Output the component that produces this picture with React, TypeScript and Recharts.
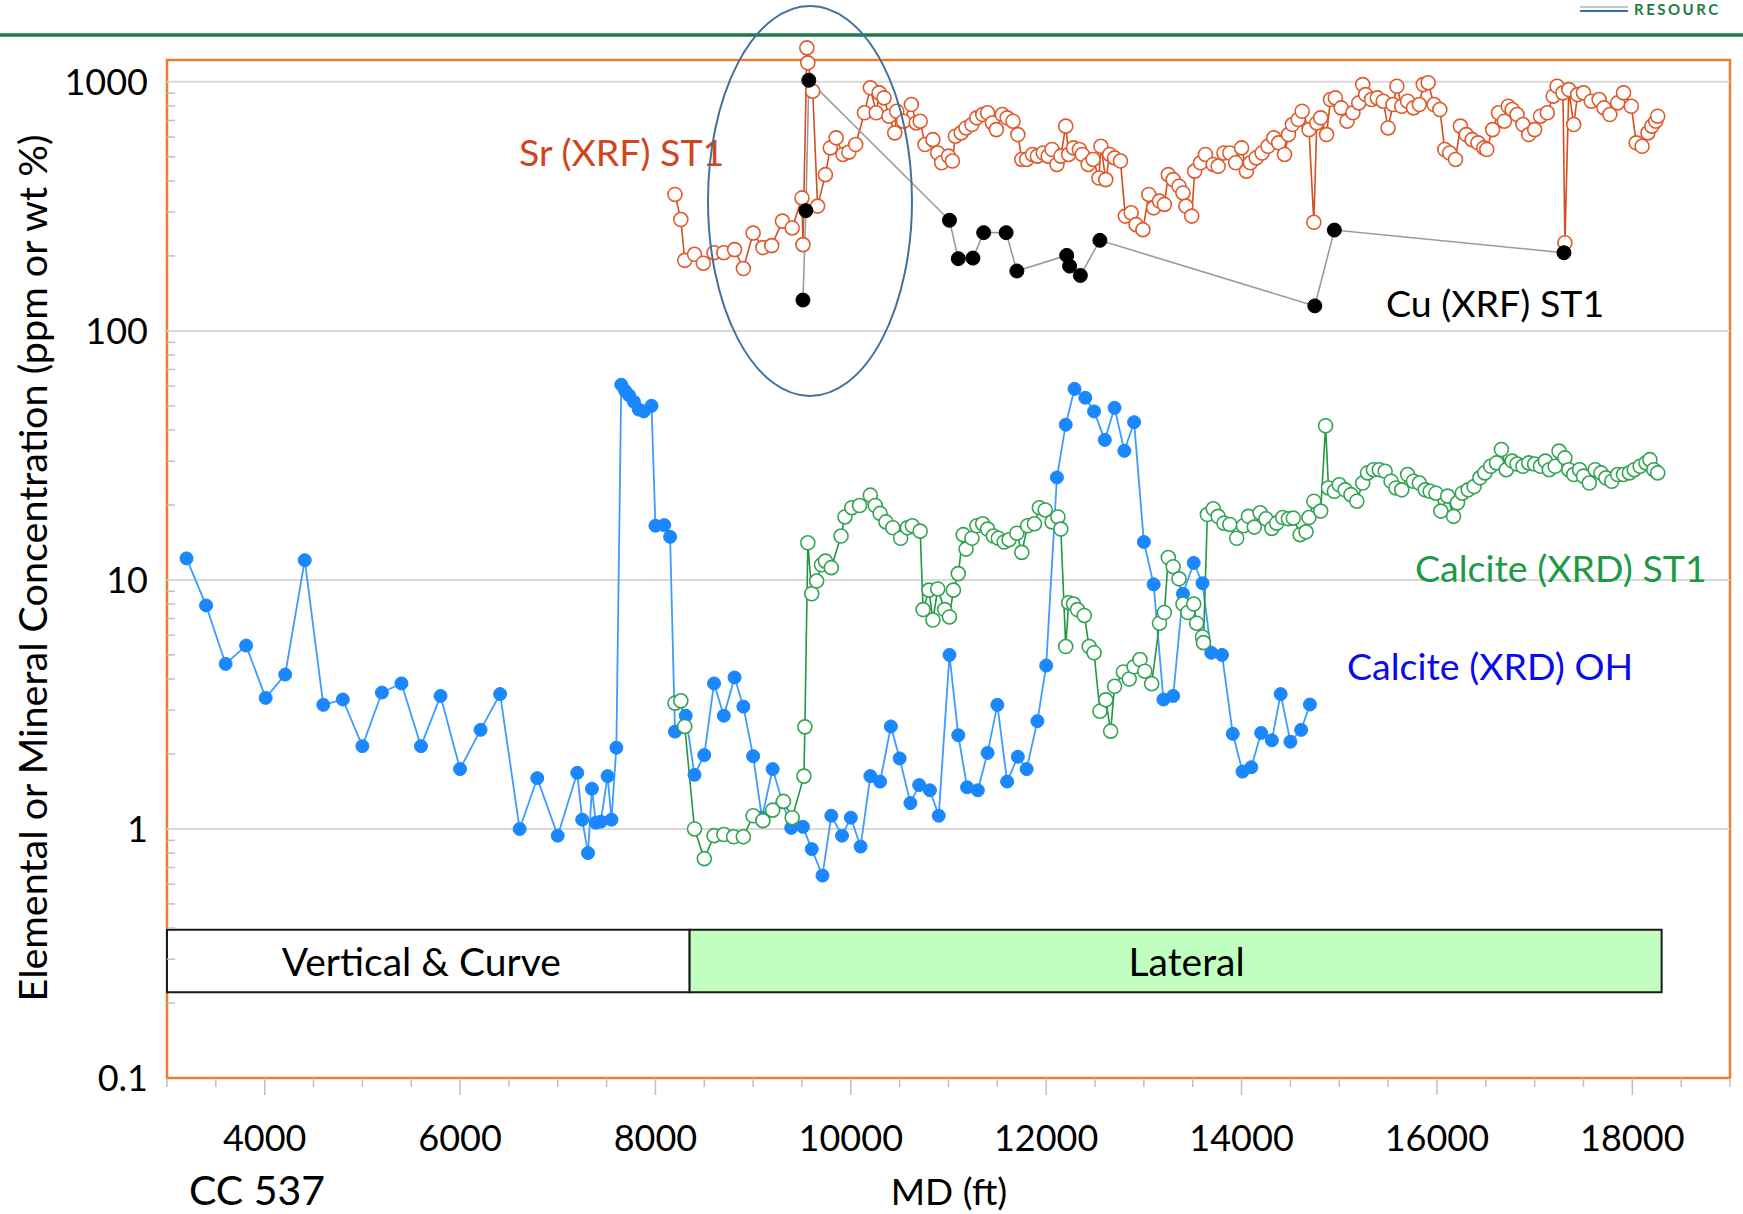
import { ComposedChart, Line, XAxis, YAxis, ReferenceLine, ReferenceArea } from "recharts";

// [MD ft, value]
const calciteOhPoints: [number, number][] = [
  [3200, 12.2], [3400, 7.9], [3600, 4.6], [3810, 5.45], [4010, 3.36], [4210, 4.17], [4410, 12.0],
  [4600, 3.15], [4800, 3.31], [5000, 2.15], [5200, 3.53], [5400, 3.84], [5600, 2.15], [5800, 3.42],
  [6000, 1.74], [6210, 2.5], [6410, 3.48], [6610, 1.0], [6790, 1.6], [7000, 0.94], [7200, 1.68],
  [7250, 1.09], [7310, 0.8], [7350, 1.45], [7390, 1.06], [7440, 1.07], [7510, 1.63], [7550, 1.09],
  [7600, 2.12], [7650, 60.8], [7690, 57.5], [7730, 55.1], [7780, 51.9], [7830, 48.3], [7880, 47.5],
  [7960, 50.0], [8000, 16.5], [8090, 16.6], [8150, 14.9], [8200, 2.46], [8310, 2.85], [8400, 1.65],
  [8500, 1.98], [8600, 3.84], [8700, 2.85], [8810, 4.06], [8900, 3.1], [9000, 1.96], [9090, 1.11],
  [9200, 1.74], [9300, 1.28], [9390, 1.01], [9510, 1.02], [9600, 0.83], [9710, 0.65], [9800, 1.13],
  [9910, 0.94], [10000, 1.11], [10100, 0.85], [10200, 1.63], [10300, 1.55], [10410, 2.58],
  [10500, 1.92], [10610, 1.27], [10700, 1.5], [10810, 1.43], [10900, 1.13], [11010, 5.0],
  [11100, 2.38], [11190, 1.47], [11300, 1.43], [11400, 2.02], [11500, 3.15], [11600, 1.55],
  [11710, 1.95], [11800, 1.74], [11910, 2.71], [12000, 4.53], [12110, 25.8], [12200, 42.0],
  [12290, 58.5], [12400, 53.9], [12490, 47.5], [12600, 36.5], [12700, 49.1], [12800, 33.0],
  [12900, 43.0], [13000, 14.2], [13100, 9.6], [13200, 3.31], [13300, 3.42], [13400, 8.8],
  [13510, 11.7], [13600, 9.7], [13690, 5.1], [13800, 5.0], [13910, 2.41], [14010, 1.7],
  [14100, 1.77], [14200, 2.43], [14310, 2.27], [14400, 3.48], [14500, 2.24], [14610, 2.5], [14700, 3.16],
];

const calciteSt1Points: [number, number][] = [
  [8200, 3.2], [8260, 3.27], [8300, 2.58], [8400, 1.0], [8500, 0.76], [8600, 0.94], [8700, 0.95],
  [8800, 0.93], [8900, 0.93], [9000, 1.13], [9100, 1.08], [9200, 1.19], [9310, 1.29], [9400, 1.11],
  [9520, 1.63], [9530, 2.57], [9560, 14.1], [9600, 8.8], [9650, 9.9], [9700, 11.5], [9740, 11.9],
  [9800, 11.2], [9900, 15.0], [9940, 17.9], [10010, 19.5], [10090, 19.9], [10200, 21.9],
  [10250, 19.9], [10300, 18.5], [10360, 17.1], [10430, 16.2], [10510, 14.7], [10580, 16.2],
  [10630, 16.5], [10710, 15.7], [10740, 7.6], [10800, 9.1], [10840, 6.9], [10890, 9.2], [10960, 7.6],
  [11010, 7.1], [11050, 9.1], [11100, 10.6], [11150, 15.2], [11180, 13.3], [11240, 14.7],
  [11290, 16.5], [11350, 16.8], [11400, 16.0], [11460, 15.0], [11510, 14.7], [11570, 14.2],
  [11620, 14.5], [11700, 15.4], [11750, 12.9], [11810, 16.5], [11880, 16.8], [11930, 19.5],
  [11990, 19.1], [12060, 17.1], [12120, 17.9], [12150, 16.0], [12200, 5.4], [12230, 8.1],
  [12280, 8.0], [12320, 7.6], [12390, 7.2], [12440, 5.4], [12490, 5.1], [12550, 2.97], [12610, 3.3],
  [12660, 2.47], [12700, 3.74], [12790, 4.27], [12850, 4.0], [12900, 4.48], [12960, 4.79],
  [13010, 4.3], [13080, 3.83], [13160, 6.7], [13210, 7.4], [13250, 12.3], [13300, 11.3],
  [13360, 10.1], [13400, 8.0], [13450, 7.4], [13510, 8.0], [13540, 6.7], [13600, 5.9], [13610, 5.6],
  [13650, 18.3], [13710, 19.3], [13760, 18.0], [13820, 16.9], [13880, 16.7], [13950, 14.7],
  [14020, 16.5], [14070, 18.0], [14130, 16.3], [14190, 18.6], [14250, 17.6], [14310, 16.1],
  [14360, 16.9], [14420, 17.8], [14480, 17.6], [14530, 17.7], [14600, 15.2], [14660, 15.6],
  [14690, 17.8], [14740, 20.7], [14810, 18.9], [14860, 41.6], [14890, 23.4], [14950, 22.7],
  [15000, 24.1], [15060, 23.0], [15120, 22.0], [15180, 20.7], [15240, 24.5], [15290, 26.9],
  [15350, 27.7], [15410, 27.7], [15470, 27.3], [15530, 24.9], [15580, 23.4], [15640, 23.0],
  [15700, 26.5], [15760, 24.9], [15820, 24.5], [15880, 23.0], [15930, 22.7], [15990, 22.3],
  [16040, 18.9], [16110, 21.7], [16170, 18.0], [16210, 20.4], [16260, 22.3], [16320, 23.0],
  [16380, 23.7], [16440, 25.7], [16490, 26.9], [16550, 28.6], [16610, 29.5], [16660, 33.4],
  [16710, 27.7], [16770, 30.0], [16820, 29.2], [16880, 28.6], [16940, 29.5], [17000, 29.2],
  [17060, 28.6], [17110, 30.0], [17150, 27.7], [17210, 28.6], [17250, 32.9], [17310, 30.9],
  [17350, 27.7], [17400, 26.5], [17460, 27.7], [17500, 26.1], [17560, 24.5], [17620, 27.7],
  [17680, 26.9], [17730, 25.7], [17790, 24.9], [17850, 26.5], [17910, 26.5], [17970, 26.9],
  [18020, 27.7], [18080, 28.6], [18140, 29.5], [18180, 30.4], [18220, 27.7], [18260, 26.9],
];

const srPoints: [number, number][] = [
  [8200, 353], [8260, 280], [8300, 192], [8400, 203], [8490, 187], [8600, 206], [8700, 206],
  [8810, 212], [8900, 178], [9000, 247], [9100, 216], [9190, 220], [9300, 276], [9400, 259],
  [9500, 342], [9510, 222], [9550, 1369], [9560, 1192], [9610, 917], [9660, 317], [9740, 424],
  [9790, 543], [9850, 596], [9920, 511], [9980, 522], [10050, 560], [10140, 751], [10200, 946],
  [10260, 751], [10290, 903], [10340, 862], [10390, 728], [10450, 624], [10470, 762], [10540, 695],
  [10620, 811], [10670, 684], [10710, 695], [10760, 560], [10840, 586], [10890, 518], [10930, 473],
  [11000, 503], [11040, 481], [11070, 605], [11130, 624], [11180, 653], [11240, 674], [11290, 717],
  [11350, 739], [11400, 751], [11450, 684], [11490, 643], [11550, 739], [11600, 717], [11660, 695],
  [11710, 614], [11750, 488], [11800, 488], [11860, 511], [11910, 503], [11970, 518], [12020, 503],
  [12060, 535], [12110, 466], [12150, 503], [12200, 664], [12230, 511], [12280, 543], [12340, 535],
  [12370, 511], [12430, 466], [12480, 488], [12540, 411], [12560, 551], [12610, 405], [12650, 511],
  [12700, 495], [12760, 481], [12810, 289], [12870, 298], [12920, 267], [12990, 255], [13050, 353],
  [13100, 312], [13160, 332], [13210, 322], [13250, 424], [13300, 405], [13360, 381], [13400, 358],
  [13430, 317], [13490, 289], [13520, 438], [13580, 473], [13630, 511], [13710, 466], [13760, 458],
  [13820, 518], [13880, 518], [13940, 473], [14000, 543], [14050, 438], [14090, 473], [14150, 495],
  [14210, 518], [14270, 551], [14330, 596], [14380, 569], [14440, 511], [14480, 614], [14520, 674],
  [14580, 706], [14620, 762], [14690, 643], [14740, 273], [14770, 684], [14810, 717], [14870, 614],
  [14910, 849], [14960, 862], [15020, 786], [15080, 695], [15140, 751], [15200, 823], [15240, 975],
  [15270, 889], [15330, 849], [15390, 862], [15450, 836], [15500, 653], [15550, 811], [15590, 960],
  [15640, 798], [15700, 836], [15760, 786], [15820, 811], [15860, 975], [15910, 992], [15970, 811],
  [16030, 774], [16080, 535], [16130, 518], [16190, 488], [16240, 664], [16300, 614], [16360, 586],
  [16420, 569], [16480, 543], [16510, 535], [16570, 643], [16630, 751], [16690, 695], [16730, 798],
  [16770, 774], [16820, 739], [16880, 674], [16940, 614], [17000, 643], [17060, 728], [17130, 751],
  [17190, 876], [17230, 960], [17290, 903], [17310, 226], [17350, 931], [17400, 674], [17440, 889],
  [17500, 903], [17580, 836], [17660, 849], [17710, 786], [17770, 739], [17850, 823], [17910, 903],
  [17990, 798], [18040, 569], [18100, 551], [18160, 624], [18200, 664], [18240, 695], [18260, 728],
];

const cuPoints: [number, number][] = [
  [9510, 133], [9540, 304], [9570, 1015], [11010, 278], [11100, 195], [11250, 196], [11360, 248],
  [11590, 248], [11700, 174], [12210, 201], [12240, 182], [12350, 167], [12550, 231], [14750, 126],
  [14950, 254], [17300, 206],
];

const stageNames = ["Vertical & Curve", "Lateral"];
const stageStart = [3000, 8350];
const stageEnd = [8350, 18300];
const stageFills = ["#ffffff", "#c0ffc0"];
const stageLabelShift = [-7, 11];

const depthLabels = [4000, 6000, 8000, 10000, 12000, 14000, 16000, 18000];
const depthTicks = Array.from({ length: 33 }, (_, i) => 3000 + i * 500);
const decades = [0.1, 1, 10, 100, 1000];
const decadeLabels = ["0.1", "1", "10", "100", "1000"];
const FRAME_TOP = 1225;
const concTicks = [
  ...decades,
  ...decades.flatMap((d) => [2, 3, 4, 5, 6, 7, 8, 9].map((m) => m * d)).filter((v) => v < FRAME_TOP),
];

const toXY = (pts: [number, number][]) => pts.map(([x, y]) => ({ x, y }));

const FONT = "Lato, 'Open Sans', sans-serif";

function DepthTick(props: any) {
  const { x, y, payload } = props;
  const major = depthLabels.includes(payload.value);
  return (
    <g>
      <line x1={x} x2={x} y1={y} y2={y + (major ? 17 : 9)} stroke="#bfbfbf" strokeWidth={1.5} />
      {major && (
        <text x={x} y={y + 73} textAnchor="middle" fontSize={36} fill="#000">
          {payload.value}
        </text>
      )}
    </g>
  );
}

function ConcTick(props: any) {
  const { x, y, payload } = props;
  const i = decades.indexOf(payload.value);
  if (i < 0) {
    return <line x1={x} x2={x + 8} y1={y} y2={y} stroke="#bfbfbf" strokeWidth={1.5} />;
  }
  return (
    <text x={x - 19} y={y + 13} textAnchor="end" fontSize={36} fill="#000">
      {decadeLabels[i]}
    </text>
  );
}

function stageLabel(name: string, shift: number) {
  return (props: any) => {
    const vb = props.viewBox || {};
    return (
      <text
        x={vb.x + vb.width / 2 + shift}
        y={vb.y + vb.height / 2}
        textAnchor="middle"
        dominantBaseline="central"
        fontSize={39}
        fill="#000"
      >
        {name}
      </text>
    );
  };
}

export default function App() {
  return (
    <div
      style={{
        position: "fixed",
        left: 0,
        top: 0,
        width: 1743,
        height: 1214,
        overflow: "hidden",
        background: "#fff",
        fontFamily: FONT,
      }}
    >
      <ComposedChart width={1743} height={1214} margin={{ top: 38, right: 13, bottom: 36, left: 0 }}>
        <XAxis
          type="number"
          dataKey="x"
          domain={[3000, 19000]}
          ticks={depthTicks}
          interval={0}
          allowDataOverflow
          axisLine={false}
          tickLine={false}
          tickSize={0}
          tickMargin={0}
          height={100}
          tick={(p: any) => <DepthTick {...p} />}
        />
        <YAxis
          type="number"
          scale="log"
          domain={[0.1, 1500]}
          ticks={concTicks}
          interval={0}
          allowDataOverflow
          axisLine={false}
          tickLine={false}
          tickSize={0}
          tickMargin={0}
          width={167}
          tick={(p: any) => <ConcTick {...p} />}
        />
        {decades.slice(1).map((d) => (
          <ReferenceLine key={d} y={d} stroke="#d9d9d9" strokeWidth={2} />
        ))}
        <ReferenceArea x1={3000} x2={19000} y1={0.1} y2={FRAME_TOP} fill="none" stroke="#ed7d31" strokeWidth={2.5} />
        {stageNames.map((name, i) => (
          <ReferenceArea
            key={name}
            x1={stageStart[i]}
            x2={stageEnd[i]}
            y1={0.221}
            y2={0.394}
            fill={stageFills[i]}
            fillOpacity={1}
            stroke="#1a1a1a"
            strokeWidth={2}
            label={stageLabel(name, stageLabelShift[i])}
          />
        ))}
        <Line
          data={toXY(calciteOhPoints)}
          dataKey="y"
          type="linear"
          stroke="#3d9cff"
          strokeWidth={1.8}
          dot={{ r: 6.5, fill: "#1a87ff", stroke: "#1a87ff", strokeWidth: 1 }}
          activeDot={false}
          isAnimationActive={false}
        />
        <Line
          data={toXY(calciteSt1Points)}
          dataKey="y"
          type="linear"
          stroke="#23963f"
          strokeWidth={1.6}
          dot={{ r: 7, fill: "#fff", stroke: "#34a454", strokeWidth: 1.6 }}
          activeDot={false}
          isAnimationActive={false}
        />
        <Line
          data={toXY(srPoints)}
          dataKey="y"
          type="linear"
          stroke="#d34f20"
          strokeWidth={1.6}
          dot={{ r: 7, fill: "#fff", stroke: "#de5b2c", strokeWidth: 1.6 }}
          activeDot={false}
          isAnimationActive={false}
        />
        <Line
          data={toXY(cuPoints)}
          dataKey="y"
          type="linear"
          stroke="#9a9a9a"
          strokeWidth={1.6}
          dot={{ r: 7, fill: "#000", stroke: "#000", strokeWidth: 1 }}
          activeDot={false}
          isAnimationActive={false}
        />
      </ComposedChart>

      <svg
        width={1743}
        height={1214}
        style={{ position: "absolute", left: 0, top: 0, pointerEvents: "none" }}
        fontFamily={FONT}
      >
        <line x1={0} x2={1743} y1={35} y2={35} stroke="#1b7d43" strokeWidth={3.3} />
        <line x1={1580} x2={1628} y1={7} y2={7} stroke="#9fb6cf" strokeWidth={1.5} />
        <line x1={1580} x2={1628} y1={11} y2={11} stroke="#3a6ea5" strokeWidth={2} />
        <text x={1634} y={15} fontSize={15} fill="#1b7d43" letterSpacing={2.5} fontWeight={700}>
          RESOURC
        </text>

        <text x={519} y={166} fontSize={37.5} fill="#d0451b">Sr (XRF) ST1</text>
        <text x={1386} y={317} fontSize={37.5} fill="#000">Cu (XRF) ST1</text>
        <text x={1415} y={582} fontSize={37.5} fill="#1e9a47">Calcite (XRD) ST1</text>
        <text x={1347} y={680} fontSize={37.5} fill="#0a0aee">Calcite (XRD) OH</text>

        <text
          x={31}
          y={568}
          fontSize={39.5}
          fill="#000"
          textAnchor="middle"
          dominantBaseline="central"
          transform="rotate(-90 31 568)"
        >
          Elemental or Mineral Concentration (ppm or wt %)
        </text>
        <text x={949} y={1205} fontSize={37} fill="#000" textAnchor="middle">MD (ft)</text>
        <text x={189} y={1205} fontSize={41} fill="#000">CC 537</text>

        <ellipse cx={810} cy={201} rx={102} ry={195} fill="none" stroke="#41719c" strokeWidth={2} />
      </svg>
    </div>
  );
}
